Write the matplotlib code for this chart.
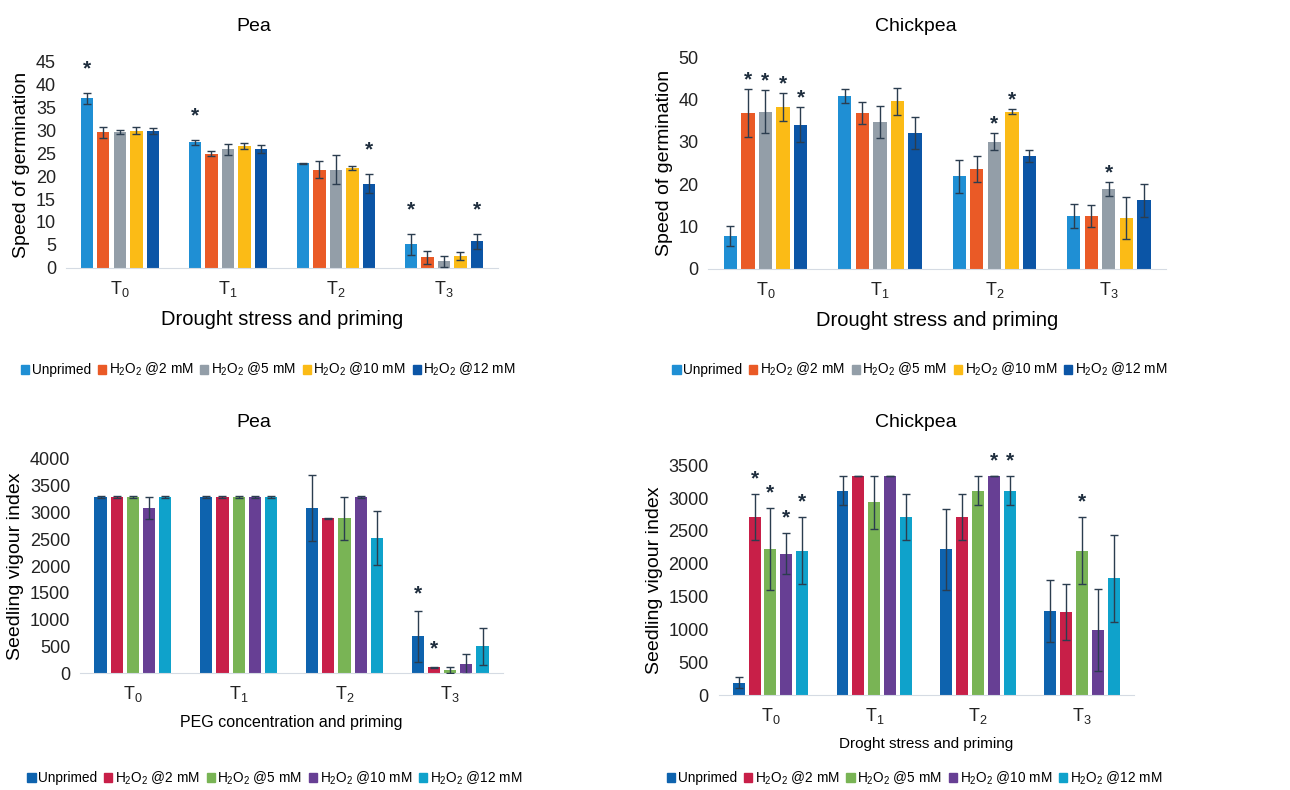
import numpy as np
import matplotlib
matplotlib.use("Agg")
import matplotlib.pyplot as plt
from matplotlib.patches import Patch

plt.rcParams['font.family'] = ['Liberation Sans', 'DejaVu Sans']
plt.rcParams['mathtext.default'] = 'regular'

# ------------------- Datos -------------------
groups = ["T$_0$", "T$_1$", "T$_2$", "T$_3$"]
treatments = ["Unprimed", "H$_2$O$_2$ @2 mM", "H$_2$O$_2$ @5 mM",
              "H$_2$O$_2$ @10 mM", "H$_2$O$_2$ @12 mM"]

# filas = tratamiento, columnas = T0..T3
pea_speed = [[37.0, 27.4, 22.8, 5.1],
             [29.6, 24.9, 21.4, 2.3],
             [29.6, 25.9, 21.4, 1.4],
             [29.9, 26.6, 21.8, 2.6],
             [29.9, 25.9, 18.4, 5.75]]
pea_speed_err = [[1.2, 0.5, 0.1, 2.2],
                 [1.2, 0.5, 1.9, 1.4],
                 [0.4, 1.2, 3.2, 1.2],
                 [0.8, 0.6, 0.5, 0.9],
                 [0.6, 0.8, 2.1, 1.6]]
pea_speed_stars = [(0, 0), (0, 1), (4, 2), (0, 3), (4, 3)]

chick_speed = [[7.8, 40.8, 21.9, 12.5],
               [36.8, 36.8, 23.6, 12.5],
               [37.1, 34.7, 30.0, 18.9],
               [38.2, 39.6, 37.1, 12.1],
               [34.1, 32.1, 26.7, 16.2]]
chick_speed_err = [[2.4, 1.6, 3.9, 2.8],
                   [5.6, 2.6, 3.0, 2.6],
                   [5.1, 3.7, 2.0, 1.6],
                   [3.3, 3.2, 0.6, 5.0],
                   [4.1, 3.8, 1.5, 3.9]]
chick_speed_stars = [(1, 0), (2, 0), (3, 0), (4, 0), (2, 2), (3, 2), (2, 3)]

pea_vigour = [[3290, 3290, 3085, 684],
              [3290, 3290, 2892, 106],
              [3290, 3290, 2892, 56],
              [3085, 3290, 3290, 168],
              [3290, 3290, 2519, 497]]
pea_vigour_err = [[10, 10, 610, 470],
                  [10, 10, 10, 10],
                  [10, 10, 400, 50],
                  [210, 10, 10, 190],
                  [10, 10, 500, 350]]
pea_vigour_stars = [(0, 3), (1, 3)]

chick_vigour = [[193, 3114, 2221, 1283],
                [2713, 3342, 2713, 1263],
                [2226, 2936, 3114, 2201],
                [2155, 3342, 3342, 994],
                [2201, 2713, 3114, 1780]]
chick_vigour_err = [[85, 218, 620, 470],
                    [350, 0, 350, 430],
                    [620, 406, 218, 510],
                    [310, 0, 0, 620],
                    [510, 350, 218, 665]]
chick_vigour_stars = [(1, 0), (2, 0), (3, 0), (4, 0), (3, 2), (4, 2), (2, 3)]

colors_top = ["#1f8fd4", "#ea5a26", "#939ea8", "#fbbb16", "#0b55a6"]
colors_bot = ["#0e63ae", "#c81f48", "#79b455", "#673f94", "#0fa2cb"]

# ------------------- Graficar -------------------
fig = plt.figure(figsize=(12.9, 7.9), dpi=100)

def panel(rect, vals, errs, stars, colors, ymax, ystep, star_off,
          title, title_pos, ylabel, xlabel, xlfs, ylfs, leg_pos, colsp):
    ax = fig.add_axes(rect)
    x = np.arange(len(groups))
    step, width = 0.153, 0.115
    for i in range(len(treatments)):
        pos = x + (i - 2) * step
        ax.bar(pos, vals[i], width, color=colors[i], zorder=2)
        ax.errorbar(pos, vals[i], yerr=errs[i], fmt="none", ecolor="#2b3d4f",
                    elinewidth=1, capsize=3, capthick=1, zorder=3)
    for (i, g) in stars:
        top = vals[i][g] + errs[i][g]
        ax.text(g + (i - 2) * step, top + star_off, "*", ha="center", va="center",
                fontsize=15, fontweight="bold", color="#1e2d3d")
    ax.set_xlim(-0.5, 3.5)
    ax.set_ylim(0, ymax)
    ax.set_yticks(np.arange(0, ymax + 1, ystep))
    ax.set_xticks(x)
    ax.set_xticklabels(groups)
    for s in ["top", "right", "left"]:
        ax.spines[s].set_visible(False)
    ax.spines["bottom"].set_color("#d5dbe3")
    ax.tick_params(axis="both", length=0, labelsize=13, colors="#222222")
    ax.tick_params(axis="x", pad=8)
    ax.tick_params(axis="y", pad=7)
    fig.text(title_pos[0], title_pos[1], title, fontsize=14, ha="center", va="center")
    ax.set_ylabel(ylabel, fontsize=ylfs, labelpad=4)
    ax.set_xlabel(xlabel, fontsize=xlfs, labelpad=8)
    handles = [Patch(color=c) for c in colors]
    fig.legend(handles, treatments, loc="center", bbox_to_anchor=leg_pos, ncol=5,
               frameon=False, fontsize=9.8, handlelength=0.6, handleheight=0.6,
               handletextpad=0.2, columnspacing=colsp)
    return ax

panel([0.051, 0.661, 0.335, 0.261], pea_speed, pea_speed_err, pea_speed_stars,
      colors_top, 45, 5, 5.3, "Pea", (0.197, 0.967), "Speed of germination",
      "Drought stress and priming", 14.5, 14, (0.208, 0.532), 0.5)
panel([0.549, 0.6595, 0.355, 0.268], chick_speed, chick_speed_err, chick_speed_stars,
      colors_top, 50, 10, 2.2, "Chickpea", (0.710, 0.967), "Speed of germination",
      "Drought stress and priming", 14.5, 14, (0.713, 0.532), 0.5)
panel([0.062, 0.148, 0.328, 0.271], pea_vigour, pea_vigour_err, pea_vigour_stars,
      colors_bot, 4000, 500, 330, "Pea", (0.197, 0.465), "Seedling vigour index",
      "PEG concentration and priming", 11.5, 14, (0.213, 0.015), 0.5)
panel([0.557, 0.120, 0.322, 0.291], chick_vigour, chick_vigour_err, chick_vigour_stars,
      colors_bot, 3500, 500, 230, "Chickpea", (0.710, 0.465), "Seedling vigour index",
      "Droght stress and priming", 11, 14, (0.709, 0.015), 0.5)

fig.savefig("out.png", dpi=100, facecolor="white")
